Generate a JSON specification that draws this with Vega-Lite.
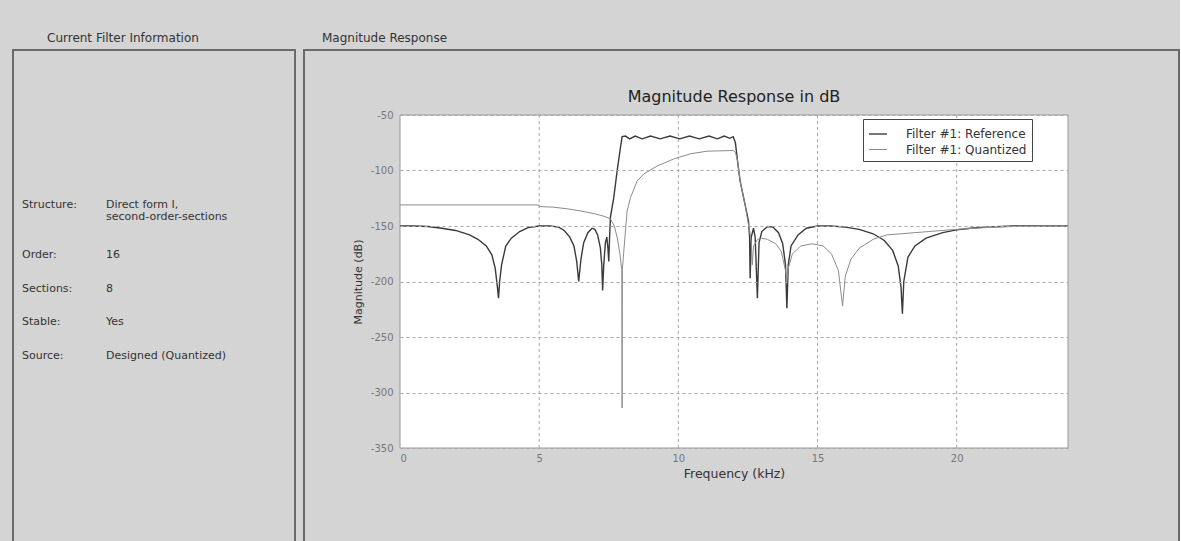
{
  "$schema": "https://vega.github.io/schema/vega-lite/v6.json",
  "background": "#d4d4d4",
  "padding": {"top": 31, "left": 12, "right": 0, "bottom": 0},
  "spacing": 7,
  "resolve": {"scale": {"color": "independent", "strokeWidth": "independent"}, "legend": {"color": "independent", "strokeWidth": "independent"}},
  "config": {
    "font": "DejaVu Sans",
    "view": {"stroke": null}
  },
  "hconcat": [
    {
      "width": 282,
      "height": 500,
      "view": {"stroke": "#6a6a6a", "strokeWidth": 2, "fill": null},
      "title": {"text": "Current Filter Information", "anchor": "start", "dx": 34, "offset": 5, "fontSize": 12, "fontWeight": "normal", "color": "#333333", "font": "DejaVu Sans"},
      "data": {"values": [
        {"row": "Structure", "col": "k", "t": "Structure:"},
        {"row": "Structure", "col": "v", "t": "Direct form I,\nsecond-order-sections"},
        {"row": "Order", "col": "k", "t": "Order:"},
        {"row": "Order", "col": "v", "t": "16"},
        {"row": "Sections", "col": "k", "t": "Sections:"},
        {"row": "Sections", "col": "v", "t": "8"},
        {"row": "Stable", "col": "k", "t": "Stable:"},
        {"row": "Stable", "col": "v", "t": "Yes"},
        {"row": "Source", "col": "k", "t": "Source:"},
        {"row": "Source", "col": "v", "t": "Designed (Quantized)"}
      ]},
      "mark": {"type": "text", "align": "left", "baseline": "top", "lineBreak": "\n", "lineHeight": 12, "fontSize": 11, "color": "#333333"},
      "encoding": {
        "x": {"field": "col", "type": "nominal", "scale": {"type": "point", "domain": ["k", "v"], "range": [9, 93], "padding": 0}, "axis": null},
        "y": {"field": "row", "type": "nominal", "scale": {"type": "point", "domain": ["Structure", "_1", "_2", "Order", "_3", "Sections", "_4", "Stable", "_5", "Source"], "range": [149, 300], "padding": 0}, "axis": null},
        "text": {"field": "t", "type": "nominal"}
      }
    },
    {
      "width": 875,
      "height": 500,
      "view": {"stroke": "#6a6a6a", "strokeWidth": 2, "fill": null},
      "title": {"text": "Magnitude Response", "anchor": "start", "dx": 18, "offset": 5, "fontSize": 12, "fontWeight": "normal", "color": "#333333", "font": "DejaVu Sans"},
      "layer": [
        {
          "data": {"values": [{"t": "plot area"}]},
          "mark": {"type": "rect", "fill": "white", "stroke": "#999999", "strokeWidth": 1},
          "encoding": {
            "x": {"datum": 0, "type": "quantitative", "scale": {"domain": [0, 24], "range": [96, 764], "nice": false, "zero": false},
              "axis": {"values": [0, 5, 10, 15, 20], "offset": -102, "zindex": 1, "title": "Frequency (kHz)", "grid": false, "domain": false, "ticks": false, "labelFontSize": 10, "labelColor": "#777777", "labelPadding": 5, "titleFontSize": 12.5, "titleFontWeight": "normal", "titleColor": "#333333", "titlePadding": 4}},
            "x2": {"datum": 24},
            "y": {"datum": -350, "type": "quantitative", "scale": {"domain": [-350, -50], "range": [398, 65], "nice": false, "zero": false},
              "axis": {"values": [-350, -300, -250, -200, -150, -100, -50], "offset": -96, "zindex": 1, "labelExpr": "datum.value < 0 ? '-' + abs(datum.value) : '' + datum.value", "title": "Magnitude (dB)", "grid": true, "gridDash": [3, 3], "gridColor": "#a8a8a8", "gridOpacity": 1, "domain": false, "ticks": false, "labelFontSize": 10, "labelColor": "#777777", "labelPadding": 7, "titleFontSize": 11, "titleFontWeight": "normal", "titleColor": "#333333", "titlePadding": 7}},
            "y2": {"datum": -50}
          }
        },
        {
          "data": {"values": [{"f": 5}, {"f": 10}, {"f": 15}, {"f": 20}]},
          "mark": {"type": "rule", "color": "#a8a8a8", "strokeWidth": 1, "strokeDash": [3, 3]},
          "encoding": {
            "x": {"field": "f", "type": "quantitative"},
            "y": {"datum": -350},
            "y2": {"datum": -50}
          }
        },
        {
          "data": {"values": [
            {"s": "Filter #1: Reference", "f": 0, "db": -150},
            {"s": "Filter #1: Reference", "f": 0.5, "db": -150},
            {"s": "Filter #1: Reference", "f": 1.0, "db": -150.5},
            {"s": "Filter #1: Reference", "f": 1.5, "db": -152},
            {"s": "Filter #1: Reference", "f": 2.0, "db": -154},
            {"s": "Filter #1: Reference", "f": 2.5, "db": -158},
            {"s": "Filter #1: Reference", "f": 2.8, "db": -162},
            {"s": "Filter #1: Reference", "f": 3.1, "db": -168},
            {"s": "Filter #1: Reference", "f": 3.3, "db": -176},
            {"s": "Filter #1: Reference", "f": 3.42, "db": -188},
            {"s": "Filter #1: Reference", "f": 3.5, "db": -205},
            {"s": "Filter #1: Reference", "f": 3.54, "db": -215},
            {"s": "Filter #1: Reference", "f": 3.58, "db": -200},
            {"s": "Filter #1: Reference", "f": 3.65, "db": -185},
            {"s": "Filter #1: Reference", "f": 3.8, "db": -168},
            {"s": "Filter #1: Reference", "f": 4.0, "db": -161},
            {"s": "Filter #1: Reference", "f": 4.3, "db": -155},
            {"s": "Filter #1: Reference", "f": 4.6, "db": -151.5},
            {"s": "Filter #1: Reference", "f": 5.0, "db": -150},
            {"s": "Filter #1: Reference", "f": 5.4, "db": -150},
            {"s": "Filter #1: Reference", "f": 5.7, "db": -151},
            {"s": "Filter #1: Reference", "f": 5.9, "db": -154},
            {"s": "Filter #1: Reference", "f": 6.1, "db": -160},
            {"s": "Filter #1: Reference", "f": 6.25, "db": -168},
            {"s": "Filter #1: Reference", "f": 6.35, "db": -182},
            {"s": "Filter #1: Reference", "f": 6.42, "db": -200},
            {"s": "Filter #1: Reference", "f": 6.5, "db": -180},
            {"s": "Filter #1: Reference", "f": 6.6, "db": -165},
            {"s": "Filter #1: Reference", "f": 6.75, "db": -156},
            {"s": "Filter #1: Reference", "f": 6.9, "db": -152},
            {"s": "Filter #1: Reference", "f": 7.0, "db": -153},
            {"s": "Filter #1: Reference", "f": 7.1, "db": -158},
            {"s": "Filter #1: Reference", "f": 7.2, "db": -170},
            {"s": "Filter #1: Reference", "f": 7.25, "db": -185},
            {"s": "Filter #1: Reference", "f": 7.28, "db": -208},
            {"s": "Filter #1: Reference", "f": 7.32, "db": -185},
            {"s": "Filter #1: Reference", "f": 7.38, "db": -165},
            {"s": "Filter #1: Reference", "f": 7.43, "db": -160},
            {"s": "Filter #1: Reference", "f": 7.47, "db": -170},
            {"s": "Filter #1: Reference", "f": 7.5, "db": -182},
            {"s": "Filter #1: Reference", "f": 7.53, "db": -160},
            {"s": "Filter #1: Reference", "f": 7.56, "db": -142},
            {"s": "Filter #1: Reference", "f": 7.68, "db": -124.5},
            {"s": "Filter #1: Reference", "f": 7.8, "db": -100.5},
            {"s": "Filter #1: Reference", "f": 7.92, "db": -79.5},
            {"s": "Filter #1: Reference", "f": 7.98, "db": -69.5},
            {"s": "Filter #1: Reference", "f": 8.1, "db": -69},
            {"s": "Filter #1: Reference", "f": 8.25, "db": -71.5},
            {"s": "Filter #1: Reference", "f": 8.45, "db": -69},
            {"s": "Filter #1: Reference", "f": 8.7, "db": -71.5},
            {"s": "Filter #1: Reference", "f": 9.0, "db": -69},
            {"s": "Filter #1: Reference", "f": 9.35, "db": -71.5},
            {"s": "Filter #1: Reference", "f": 9.7, "db": -69},
            {"s": "Filter #1: Reference", "f": 10.05, "db": -71.5},
            {"s": "Filter #1: Reference", "f": 10.4, "db": -69},
            {"s": "Filter #1: Reference", "f": 10.75, "db": -71.5},
            {"s": "Filter #1: Reference", "f": 11.1, "db": -69},
            {"s": "Filter #1: Reference", "f": 11.4, "db": -71.5},
            {"s": "Filter #1: Reference", "f": 11.65, "db": -69},
            {"s": "Filter #1: Reference", "f": 11.85, "db": -71},
            {"s": "Filter #1: Reference", "f": 11.97, "db": -69.5},
            {"s": "Filter #1: Reference", "f": 12.05, "db": -75},
            {"s": "Filter #1: Reference", "f": 12.12, "db": -90},
            {"s": "Filter #1: Reference", "f": 12.22, "db": -109.5},
            {"s": "Filter #1: Reference", "f": 12.4, "db": -131},
            {"s": "Filter #1: Reference", "f": 12.52, "db": -145.5},
            {"s": "Filter #1: Reference", "f": 12.56, "db": -160},
            {"s": "Filter #1: Reference", "f": 12.58, "db": -197},
            {"s": "Filter #1: Reference", "f": 12.62, "db": -160},
            {"s": "Filter #1: Reference", "f": 12.7, "db": -152},
            {"s": "Filter #1: Reference", "f": 12.76, "db": -160},
            {"s": "Filter #1: Reference", "f": 12.84, "db": -215},
            {"s": "Filter #1: Reference", "f": 12.9, "db": -165},
            {"s": "Filter #1: Reference", "f": 13.0, "db": -155},
            {"s": "Filter #1: Reference", "f": 13.2, "db": -150.5},
            {"s": "Filter #1: Reference", "f": 13.4, "db": -151},
            {"s": "Filter #1: Reference", "f": 13.6, "db": -156},
            {"s": "Filter #1: Reference", "f": 13.75, "db": -166},
            {"s": "Filter #1: Reference", "f": 13.85, "db": -185},
            {"s": "Filter #1: Reference", "f": 13.9, "db": -224},
            {"s": "Filter #1: Reference", "f": 13.95, "db": -185},
            {"s": "Filter #1: Reference", "f": 14.05, "db": -168},
            {"s": "Filter #1: Reference", "f": 14.3, "db": -158},
            {"s": "Filter #1: Reference", "f": 14.6, "db": -152},
            {"s": "Filter #1: Reference", "f": 15.0, "db": -150},
            {"s": "Filter #1: Reference", "f": 15.5, "db": -150},
            {"s": "Filter #1: Reference", "f": 16.0, "db": -151},
            {"s": "Filter #1: Reference", "f": 16.5, "db": -153},
            {"s": "Filter #1: Reference", "f": 17.0, "db": -157},
            {"s": "Filter #1: Reference", "f": 17.4, "db": -163},
            {"s": "Filter #1: Reference", "f": 17.7, "db": -172},
            {"s": "Filter #1: Reference", "f": 17.9, "db": -186},
            {"s": "Filter #1: Reference", "f": 18.0, "db": -205},
            {"s": "Filter #1: Reference", "f": 18.05, "db": -229},
            {"s": "Filter #1: Reference", "f": 18.1, "db": -200},
            {"s": "Filter #1: Reference", "f": 18.25, "db": -178},
            {"s": "Filter #1: Reference", "f": 18.5, "db": -168},
            {"s": "Filter #1: Reference", "f": 18.9, "db": -161},
            {"s": "Filter #1: Reference", "f": 19.5, "db": -156},
            {"s": "Filter #1: Reference", "f": 20.0, "db": -153.5},
            {"s": "Filter #1: Reference", "f": 20.5, "db": -152},
            {"s": "Filter #1: Reference", "f": 21.0, "db": -151},
            {"s": "Filter #1: Reference", "f": 22.0, "db": -150},
            {"s": "Filter #1: Reference", "f": 24.0, "db": -150},
            {"s": "Filter #1: Quantized", "f": 0, "db": -131},
            {"s": "Filter #1: Quantized", "f": 4.98, "db": -131},
            {"s": "Filter #1: Quantized", "f": 5.0, "db": -132.5},
            {"s": "Filter #1: Quantized", "f": 5.5, "db": -133},
            {"s": "Filter #1: Quantized", "f": 6.0, "db": -134.5},
            {"s": "Filter #1: Quantized", "f": 6.5, "db": -136.5},
            {"s": "Filter #1: Quantized", "f": 7.0, "db": -139},
            {"s": "Filter #1: Quantized", "f": 7.3, "db": -141},
            {"s": "Filter #1: Quantized", "f": 7.56, "db": -143.5},
            {"s": "Filter #1: Quantized", "f": 7.7, "db": -150},
            {"s": "Filter #1: Quantized", "f": 7.8, "db": -160},
            {"s": "Filter #1: Quantized", "f": 7.9, "db": -175},
            {"s": "Filter #1: Quantized", "f": 7.95, "db": -186},
            {"s": "Filter #1: Quantized", "f": 7.97, "db": -189},
            {"s": "Filter #1: Quantized", "f": 7.98, "db": -314},
            {"s": "Filter #1: Quantized", "f": 7.99, "db": -189},
            {"s": "Filter #1: Quantized", "f": 8.05, "db": -170},
            {"s": "Filter #1: Quantized", "f": 8.1, "db": -154.5},
            {"s": "Filter #1: Quantized", "f": 8.16, "db": -136.5},
            {"s": "Filter #1: Quantized", "f": 8.28, "db": -124.5},
            {"s": "Filter #1: Quantized", "f": 8.52, "db": -109.5},
            {"s": "Filter #1: Quantized", "f": 8.76, "db": -103},
            {"s": "Filter #1: Quantized", "f": 9.24, "db": -96},
            {"s": "Filter #1: Quantized", "f": 9.83, "db": -89.6},
            {"s": "Filter #1: Quantized", "f": 10.43, "db": -85},
            {"s": "Filter #1: Quantized", "f": 11.03, "db": -82.6},
            {"s": "Filter #1: Quantized", "f": 11.98, "db": -82},
            {"s": "Filter #1: Quantized", "f": 12.05, "db": -84},
            {"s": "Filter #1: Quantized", "f": 12.12, "db": -90},
            {"s": "Filter #1: Quantized", "f": 12.22, "db": -109.5},
            {"s": "Filter #1: Quantized", "f": 12.4, "db": -131},
            {"s": "Filter #1: Quantized", "f": 12.5, "db": -146},
            {"s": "Filter #1: Quantized", "f": 12.55, "db": -152},
            {"s": "Filter #1: Quantized", "f": 12.62, "db": -165},
            {"s": "Filter #1: Quantized", "f": 12.66, "db": -185},
            {"s": "Filter #1: Quantized", "f": 12.7, "db": -168},
            {"s": "Filter #1: Quantized", "f": 12.85, "db": -162},
            {"s": "Filter #1: Quantized", "f": 13.0, "db": -161},
            {"s": "Filter #1: Quantized", "f": 13.2, "db": -162},
            {"s": "Filter #1: Quantized", "f": 13.5, "db": -166},
            {"s": "Filter #1: Quantized", "f": 13.7, "db": -173},
            {"s": "Filter #1: Quantized", "f": 13.85, "db": -190},
            {"s": "Filter #1: Quantized", "f": 13.9, "db": -200},
            {"s": "Filter #1: Quantized", "f": 13.95, "db": -188},
            {"s": "Filter #1: Quantized", "f": 14.1, "db": -175},
            {"s": "Filter #1: Quantized", "f": 14.4, "db": -168},
            {"s": "Filter #1: Quantized", "f": 14.8, "db": -166},
            {"s": "Filter #1: Quantized", "f": 15.2, "db": -168},
            {"s": "Filter #1: Quantized", "f": 15.5, "db": -175},
            {"s": "Filter #1: Quantized", "f": 15.75, "db": -190},
            {"s": "Filter #1: Quantized", "f": 15.9, "db": -222},
            {"s": "Filter #1: Quantized", "f": 16.0, "db": -195},
            {"s": "Filter #1: Quantized", "f": 16.2, "db": -180},
            {"s": "Filter #1: Quantized", "f": 16.5, "db": -170},
            {"s": "Filter #1: Quantized", "f": 17.0, "db": -162},
            {"s": "Filter #1: Quantized", "f": 17.5, "db": -158},
            {"s": "Filter #1: Quantized", "f": 18.0, "db": -157},
            {"s": "Filter #1: Quantized", "f": 18.5, "db": -156},
            {"s": "Filter #1: Quantized", "f": 19.0, "db": -155},
            {"s": "Filter #1: Quantized", "f": 20.0, "db": -153},
            {"s": "Filter #1: Quantized", "f": 21.0, "db": -151.5},
            {"s": "Filter #1: Quantized", "f": 22.0, "db": -150.5},
            {"s": "Filter #1: Quantized", "f": 24.0, "db": -150}
          ]},
          "mark": {"type": "line", "clip": false},
          "encoding": {
            "x": {"field": "f", "type": "quantitative",
              "axis": {"values": [0, 5, 10, 15, 20], "offset": -102, "zindex": 1, "title": "Frequency (kHz)", "grid": false, "domain": false, "ticks": false, "labelFontSize": 10, "labelColor": "#777777", "labelPadding": 5, "titleFontSize": 12.5, "titleFontWeight": "normal", "titleColor": "#333333", "titlePadding": 4}},
            "y": {"field": "db", "type": "quantitative",
              "axis": {"values": [-350, -300, -250, -200, -150, -100, -50], "offset": -96, "zindex": 1, "labelExpr": "datum.value < 0 ? '-' + abs(datum.value) : '' + datum.value", "title": "Magnitude (dB)", "grid": true, "gridDash": [3, 3], "gridColor": "#a8a8a8", "gridOpacity": 1, "domain": false, "ticks": false, "labelFontSize": 10, "labelColor": "#777777", "labelPadding": 7, "titleFontSize": 11, "titleFontWeight": "normal", "titleColor": "#333333", "titlePadding": 7}},
            "color": {"field": "s", "type": "nominal", "scale": {"domain": ["Filter #1: Reference", "Filter #1: Quantized"], "range": ["#3a3a3a", "#8c8c8c"]},
              "legend": {"title": null, "orient": "none", "legendX": 559, "legendY": 69, "fillColor": "white", "strokeColor": "#444444", "padding": 5, "symbolType": "stroke", "symbolSize": 324, "symbolStrokeWidth": 2, "labelFontSize": 12, "labelColor": "#333333", "rowPadding": 0, "labelOffset": 18}},
            "strokeWidth": {"field": "s", "type": "nominal", "scale": {"domain": ["Filter #1: Reference", "Filter #1: Quantized"], "range": [1.4, 1]}, "legend": {"title": null, "orient": "none", "legendX": 559, "legendY": 69}},
            "detail": {"field": "s"}
          }
        },
        {
          "data": {"values": [{"t": "Magnitude Response in dB"}]},
          "mark": {"type": "text", "align": "center", "baseline": "middle", "fontSize": 16, "color": "#222222"},
          "encoding": {"x": {"datum": 12}, "y": {"datum": -34}, "text": {"field": "t"}}
        }
      ]
    }
  ]
}
